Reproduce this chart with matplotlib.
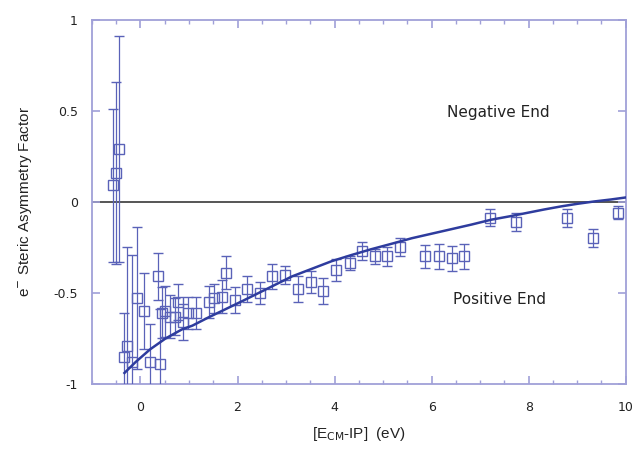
import matplotlib
matplotlib.use("Agg")
import matplotlib.pyplot as plt
from matplotlib.ticker import MultipleLocator, FuncFormatter

# measured steric asymmetry points
energy = [-0.57, -0.51, -0.45, -0.34, -0.28, -0.18, -0.08, 0.08, 0.19, 0.36,
          0.41, 0.44, 0.51, 0.60, 0.71, 0.78, 0.88, 0.97, 1.14, 1.41,
          1.51, 1.67, 1.77, 1.94, 2.20, 2.47, 2.72, 2.98, 3.24, 3.51,
          3.77, 4.03, 4.31, 4.56, 4.83, 5.09, 5.35, 5.86, 6.15, 6.41,
          6.66, 7.20, 7.73, 8.79, 9.33, 9.85]
asym = [0.09, 0.16, 0.29, -0.85, -0.79, -0.88, -0.53, -0.60, -0.88, -0.41,
        -0.89, -0.61, -0.60, -0.63, -0.63, -0.55, -0.66, -0.61, -0.61, -0.55,
        -0.53, -0.52, -0.39, -0.54, -0.48, -0.50, -0.41, -0.40, -0.48, -0.44,
        -0.49, -0.375, -0.335, -0.27, -0.30, -0.30, -0.25, -0.30, -0.30, -0.31,
        -0.30, -0.087, -0.11, -0.09, -0.20, -0.06]
asym_err = [0.42, 0.50, 0.62, 0.24, 0.54, 0.59, 0.39, 0.21, 0.21, 0.13,
            0.30, 0.14, 0.14, 0.12, 0.10, 0.10, 0.10, 0.09, 0.09, 0.09,
            0.08, 0.09, 0.09, 0.07, 0.07, 0.06, 0.07, 0.05, 0.07, 0.06,
            0.07, 0.06, 0.04, 0.05, 0.04, 0.05, 0.05, 0.065, 0.07, 0.07,
            0.07, 0.045, 0.05, 0.05, 0.05, 0.035]

# model curve
curve_x = [-0.33, -0.10, 0.20, 0.52, 0.86, 1.07, 1.40, 1.75, 2.10, 2.44, 2.78, 3.12,
           3.53, 3.94, 4.35, 4.76, 5.18, 5.59, 6.00, 6.41, 6.82, 7.23, 7.60,
           7.98, 8.32, 8.67, 9.00, 9.35, 9.70, 10.0]
curve_y = [-0.94, -0.88, -0.81, -0.75, -0.70, -0.68, -0.635, -0.59, -0.545, -0.50, -0.455, -0.41,
           -0.368, -0.326, -0.292, -0.26, -0.23, -0.20, -0.175, -0.15, -0.125, -0.098, -0.08,
           -0.06, -0.042, -0.025, -0.011, 0.002, 0.013, 0.024]

spine_col = "#a0a0d8"
pt_col = "#5a62b8"
fit_col = "#2e3c9e"

fig = plt.figure(figsize=(6.34, 4.49), dpi=100)
ax = fig.add_axes([0.145, 0.145, 0.842, 0.811])

ax.axhline(0, color="#555555", lw=1.4, zorder=1)
ax.errorbar(energy, asym, yerr=asym_err, fmt="s", ms=7, mfc="none", mec=pt_col,
            mew=1.0, ecolor=pt_col, elinewidth=0.9, capsize=3.5, capthick=0.9, zorder=3)
ax.plot(curve_x, curve_y, color=fit_col, lw=1.8, zorder=4)

ax.text(7.37, 0.49, "Negative End", fontsize=11, ha="center", va="center", color="#222222")
ax.text(7.39, -0.535, "Positive End", fontsize=11, ha="center", va="center", color="#222222")

ax.set_xlim(-1, 10)
ax.set_ylim(-1, 1)
ax.xaxis.set_major_locator(MultipleLocator(2))
ax.xaxis.set_minor_locator(MultipleLocator(0.5))
ax.yaxis.set_major_locator(MultipleLocator(0.5))
ax.xaxis.set_major_formatter(FuncFormatter(lambda v, p: "%g" % v))
ax.yaxis.set_major_formatter(FuncFormatter(lambda v, p: "%g" % v))

for s in ax.spines.values():
    s.set_color(spine_col)
    s.set_linewidth(1.3)
ax.tick_params(which="both", direction="in", top=True, right=True, color=spine_col,
               labelsize=9, labelcolor="#222222", pad=12)
ax.tick_params(which="major", length=6, width=1.2)
ax.tick_params(which="minor", length=3, width=1.0)
ax.tick_params(axis="y", pad=10)

ax.set_xlabel(r"[E$_{\rm CM}$-IP]  (eV)", fontsize=11, family="Liberation Sans",
              color="#222222", labelpad=8)
ax.set_ylabel(r"e$^{-}$ Steric Asymmetry Factor", fontsize=11, family="Liberation Sans",
              color="#222222", labelpad=14)

fig.savefig("out.png", dpi=100)
